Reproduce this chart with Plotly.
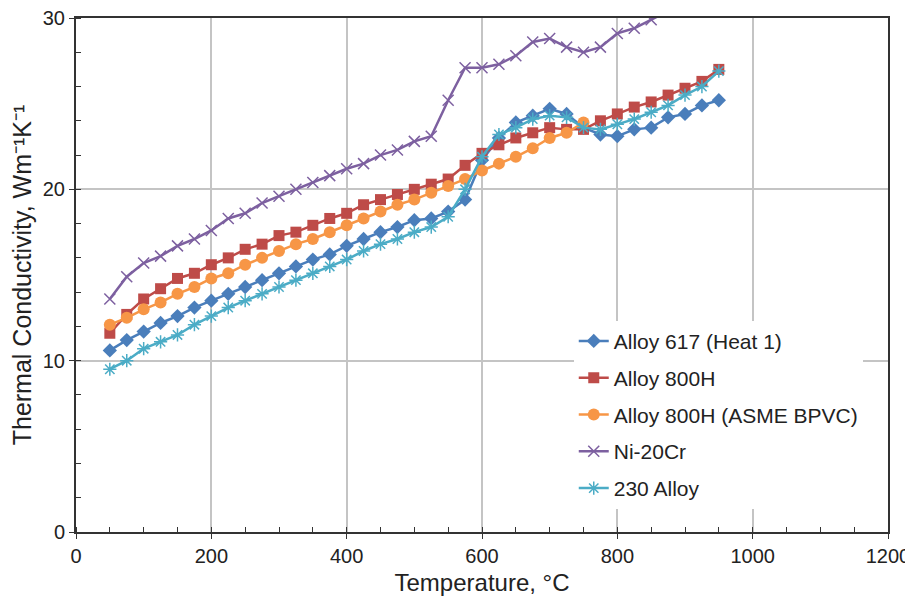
import plotly.graph_objects as go

temps_full = [50 + 25 * i for i in range(37)]
temps_asme = temps_full[:29]
temps_ni = temps_full[:34]

alloy617 = [10.6, 11.2, 11.7, 12.2, 12.6, 13.1, 13.5, 13.9, 14.3, 14.7, 15.1, 15.5, 15.9, 16.2,
            16.7, 17.1, 17.5, 17.8, 18.2, 18.3, 18.7, 19.4, 21.7, 23.0, 23.9, 24.3, 24.7, 24.4,
            23.6, 23.2, 23.1, 23.5, 23.6, 24.2, 24.4, 24.9, 25.2]
alloy800h = [11.6, 12.7, 13.6, 14.2, 14.8, 15.1, 15.6, 16.0, 16.5, 16.8, 17.3, 17.5, 17.9, 18.3,
             18.6, 19.1, 19.4, 19.7, 20.0, 20.3, 20.6, 21.4, 22.1, 22.6, 23.0, 23.3, 23.6, 23.5,
             23.5, 24.0, 24.4, 24.8, 25.1, 25.5, 25.9, 26.3, 27.0]
alloy800h_asme = [12.1, 12.5, 13.0, 13.4, 13.9, 14.3, 14.8, 15.1, 15.6, 16.0, 16.4, 16.8, 17.1,
                  17.5, 17.9, 18.3, 18.7, 19.1, 19.4, 19.8, 20.2, 20.6, 21.1, 21.5, 21.9, 22.4,
                  23.0, 23.3, 23.9]
ni20cr = [13.6, 14.9, 15.7, 16.1, 16.7, 17.1, 17.6, 18.3, 18.6, 19.2, 19.6, 20.0, 20.4, 20.8,
          21.2, 21.5, 22.0, 22.3, 22.8, 23.1, 25.2, 27.1, 27.1, 27.3, 27.8, 28.6, 28.8, 28.3,
          28.0, 28.3, 29.1, 29.4, 29.9, 30.4]
alloy230 = [9.5, 10.0, 10.7, 11.1, 11.5, 12.1, 12.6, 13.1, 13.5, 13.9, 14.3, 14.7, 15.1, 15.5,
            15.9, 16.4, 16.8, 17.1, 17.5, 17.8, 18.4, 20.0, 21.9, 23.2, 23.6, 24.1, 24.3, 24.2,
            23.6, 23.5, 23.8, 24.1, 24.5, 24.9, 25.5, 26.0, 26.9]

series = [
    ("Alloy 617 (Heat 1)", temps_full, alloy617, "#4a7ebb", "diamond", 11, None),
    ("Alloy 800H", temps_full, alloy800h, "#be4b48", "square", 11, None),
    ("Alloy 800H (ASME BPVC)", temps_asme, alloy800h_asme, "#f79646", "circle", 12, None),
    ("Ni-20Cr", temps_ni, ni20cr, "#7d60a0", "x-thin-open", 11, 1.5),
    ("230 Alloy", temps_full, alloy230, "#4bacc6", "asterisk-open", 11, 1.5),
]

fig = go.Figure()
for name, xs, ys, col, sym, size, lw in series:
    marker = dict(symbol=sym, size=size, color=col)
    if lw:
        marker["line"] = dict(color=col, width=lw)
    fig.add_trace(go.Scatter(x=xs, y=ys, name=name, mode="lines+markers", legendgroup=name,
                             line=dict(color=col, width=2.5), marker=marker))

font = dict(family="Liberation Sans, Arial, sans-serif", color="#222222")
fig.update_layout(
    width=913, height=605,
    margin=dict(l=68, r=33, t=10, b=81),
    paper_bgcolor="white", plot_bgcolor="white",
    font=dict(size=20, **font),
    showlegend=True,
    legend=dict(x=0.613, y=0.411, xanchor="left", yanchor="top",
                bgcolor="white", font=dict(size=21, **font),
                tracegroupgap=6.5, itemwidth=30),
)
fig.update_xaxes(
    range=[0, 1200], tickvals=[0, 200, 400, 600, 800, 1000, 1200],
    showgrid=True, gridcolor="#c4c4c4", gridwidth=2,
    showline=True, linecolor="#333333", linewidth=2, mirror=True,
    ticks="outside", ticklen=5, tickcolor="#333333",
    minor=dict(dtick=50, ticks="inside", ticklen=5, tickcolor="#333333", showgrid=False),
    zeroline=False, automargin=False, ticklabeloverflow="allow",
    title=dict(text="Temperature, °C", font=dict(size=24, **font), standoff=8),
    tickfont=dict(size=20, **font),
)
fig.update_yaxes(
    range=[0, 30], tickvals=[0, 10, 20, 30],
    showgrid=True, gridcolor="#c4c4c4", gridwidth=2,
    showline=True, linecolor="#333333", linewidth=2, mirror=True,
    ticks="outside", ticklen=5, tickcolor="#333333",
    minor=dict(dtick=2, ticks="inside", ticklen=5, tickcolor="#333333", showgrid=False),
    zeroline=False, automargin=False, ticklabeloverflow="allow",
    title=dict(text="Thermal Conductivity, Wm⁻¹K⁻¹", font=dict(size=25, **font), standoff=8),
    tickfont=dict(size=20, **font),
)

fig.write_html("out.html")
